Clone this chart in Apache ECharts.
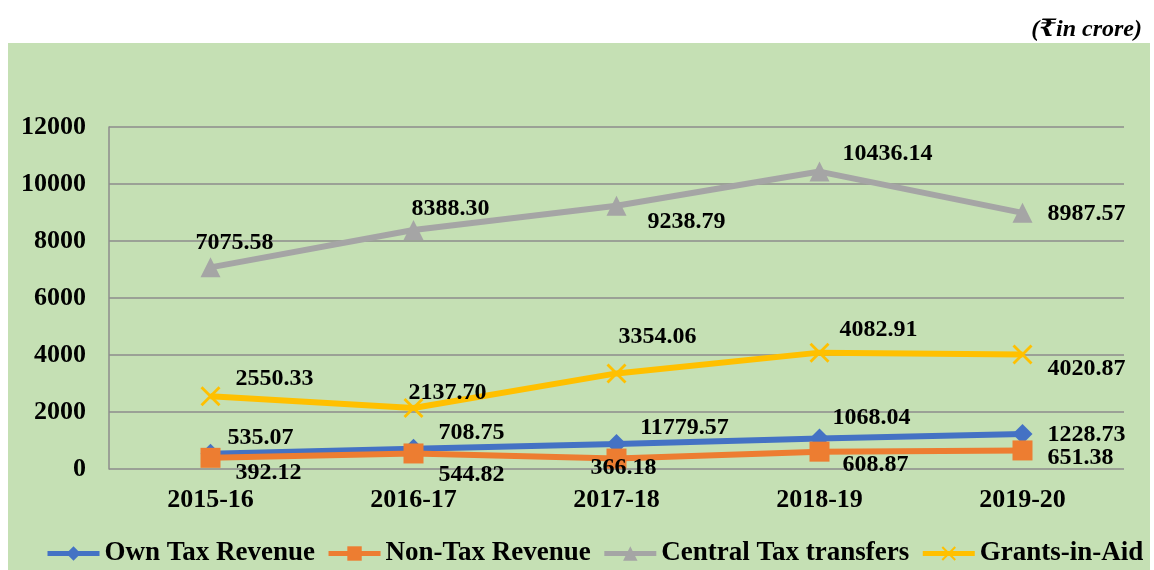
<!DOCTYPE html>
<html>
<head>
<meta charset="utf-8">
<script src="https://cdn.jsdelivr.net/npm/echarts@6/dist/echarts.min.js"></script>
<style>
html, body { margin: 0; padding: 0; background: #fff; }
#main { width: 1154px; height: 570px; }
</style>
</head>
<body>
<div id="main"></div>
<script>
/* data (₹ in crore) */
var years = ['2015-16', '2016-17', '2017-18', '2018-19', '2019-20'];
var ownTax = [535.07, 708.75, 880, 1068.04, 1228.73];
var ownTaxLabels = ['535.07', '708.75', '11779.57', '1068.04', '1228.73']; // label as printed in source
var nonTax = [392.12, 544.82, 366.18, 608.87, 651.38];
var centralTax = [7075.58, 8388.30, 9238.79, 10436.14, 8987.57];
var grants = [2550.33, 2137.70, 3354.06, 4082.91, 4020.87];
var yTicks = [0, 2000, 4000, 6000, 8000, 10000, 12000];

/* where each value label sits, relative to its marker */
var ownOff = [[50, -16], [58, -16], [68, -16], [52, -21], [64, 1]];
var nonOff = [[58, 15], [58, 21], [7, 9], [56, 13], [58, 7]];
var centralOff = [[24, -25], [37, -21], [70, 16], [68, -18], [64, 1]];
var grantsOff = [[64, -18], [34, -15], [41, -37], [59, -23], [64, 14]];

var serif = 'Liberation Serif, DejaVu Serif, serif';
var xMark = 'path://M0,1L1,0L10,9L9,10Z M9,0L10,1L1,10L0,9Z';

var withLabels = function (values, offsets, texts) {
    return values.map(function (v, i) {
        return {
            value: v,
            label: {
                offset: offsets[i],
                formatter: texts ? texts[i] : v.toFixed(2)
            }
        };
    });
};

var makeSeries = function (name, values, offsets, texts, color, symbol, size) {
    return {
        name: name,
        type: 'line',
        data: withLabels(values, offsets, texts),
        symbol: symbol,
        symbolSize: size,
        color: color,
        lineStyle: { width: 6, color: color },
        itemStyle: { color: color },
        label: {
            show: true,
            position: 'inside',
            color: '#000',
            fontFamily: serif,
            fontWeight: 'bold',
            fontSize: 24
        },
        emphasis: { disabled: true },
        animation: false
    };
};

var chart = echarts.init(document.getElementById('main'));
var option = {
    animation: false,
    graphic: [{
        type: 'rect',
        z: -100,
        shape: { x: 8, y: 43, width: 1142, height: 527 },
        style: { fill: '#C5E0B4' },
        silent: true
    }],
    title: {
        text: '(₹in crore)',
        right: 7,
        top: 13,
        textStyle: {
            fontFamily: serif,
            fontWeight: 'bold',
            fontStyle: 'italic',
            fontSize: 24,
            color: '#000'
        }
    },
    legend: {
        bottom: -2,
        left: 40,
        itemWidth: 52,
        itemHeight: 18,
        itemGap: 11,
        lineStyle: { width: 5 },
        textStyle: {
            fontFamily: serif,
            fontWeight: 'bold',
            fontSize: 27,
            color: '#000'
        },
        data: ['Own Tax Revenue', 'Non-Tax Revenue', 'Central Tax transfers', 'Grants-in-Aid']
    },
    grid: { left: 109, right: 30, top: 127, bottom: 101 },
    xAxis: {
        type: 'category',
        data: years,
        axisLine: { show: false },
        axisTick: { show: false },
        axisLabel: {
            margin: 18,
            color: '#000',
            fontFamily: serif,
            fontWeight: 'bold',
            fontSize: 26
        }
    },
    yAxis: {
        type: 'value',
        min: yTicks[0],
        max: yTicks[yTicks.length - 1],
        interval: yTicks[1] - yTicks[0],
        axisLine: { show: true, lineStyle: { color: '#8c8c8c', width: 1.5 } },
        axisTick: { show: false },
        splitLine: { lineStyle: { color: '#8c8c8c', width: 1.5 } },
        axisLabel: {
            margin: 23,
            color: '#000',
            fontFamily: serif,
            fontWeight: 'bold',
            fontSize: 26,
            formatter: function (v) { return String(v); }
        }
    },
    series: [
        makeSeries('Own Tax Revenue', ownTax, ownOff, ownTaxLabels, '#4472C4', 'diamond', 20),
        makeSeries('Non-Tax Revenue', nonTax, nonOff, null, '#ED7D31', 'rect', 20),
        makeSeries('Central Tax transfers', centralTax, centralOff, null, '#A5A5A5', 'triangle', 20),
        makeSeries('Grants-in-Aid', grants, grantsOff, null, '#FFC000', xMark, 20)
    ]
};
chart.setOption(option);
</script>
</body>
</html>
